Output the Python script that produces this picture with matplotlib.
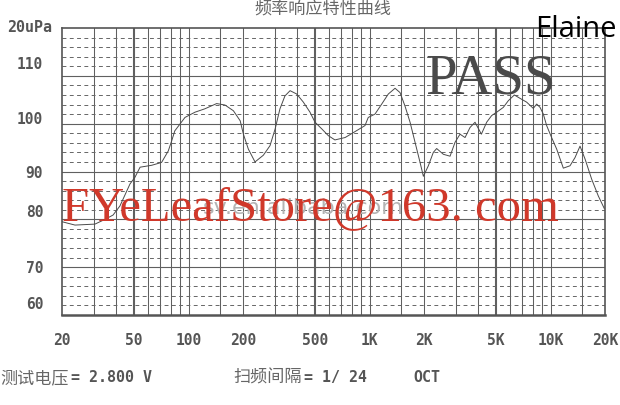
import matplotlib
matplotlib.use('Agg')
from matplotlib import pyplot as plt
from matplotlib.ticker import NullLocator

# Frequency response curve (Hz, dB)
freq = [20, 23.6, 30.4, 34.6, 38.3, 41.8, 47.5, 50.6, 54, 62.6, 71, 77.3, 80.7, 84,
        95.6, 108.6, 123, 143, 159, 177, 193, 201, 214, 233, 259, 282, 301, 320,
        341, 364, 396, 431, 469, 500, 545, 592, 644, 733, 764, 944, 984, 1072,
        1168, 1270, 1384, 1474, 1570, 1675, 1785, 1902, 1984, 2114, 2252, 2350,
        2558, 2786, 2968, 3162, 3372, 3592, 3828, 4150, 4438, 4732, 5044, 5484,
        5846, 6312, 6780, 7380, 8032, 8390, 8754, 9126, 9520, 10140, 10812,
        11770, 12818, 13652, 14556, 15520, 16880, 18360, 19800]
spl = [79.5, 78.8, 79.0, 80.0, 80.9, 82.8, 87.4, 88.8, 90.9, 91.3, 91.9, 94.3, 96.4, 98.5,
       101.3, 102.4, 103.1, 104.2, 103.9, 102.7, 100.6, 97.8, 94.7, 92.0, 93.4, 95.4, 98.9, 103.1,
       105.8, 106.9, 106.2, 104.5, 102.4, 100.3, 98.9, 97.5, 96.6, 97.1, 97.5, 99.6, 101.3, 102.0,
       104.1, 106.2, 107.4, 106.5, 103.7, 100.3, 96.1, 91.9, 89.0, 91.2, 94.0, 94.8,
       93.6, 93.2, 96.1, 97.8, 97.1, 99.2, 100.3, 97.8, 100.3, 101.7, 102.4, 103.4,
       104.8, 106.0, 105.3, 104.5, 103.2, 104.1, 103.4, 102.0, 99.6, 97.1, 94.7,
       90.7, 91.2, 92.9, 95.3, 92.6, 88.4, 84.9, 82.3]

xtick_vals = [20, 50, 100, 200, 500, 1000, 2000, 5000, 10000, 20000]
xtick_labels = ['20', '50', '100', '200', '500', '1K', '2K', '5K', '10K', '20K']
# the y labels sit a little off the grid lines in the original
ytick_vals = [112.9, 101.4, 90, 81.85, 70.3, 62.7]
ytick_labels = ['110', '100', '90', '80', '70', '60']

W, H = 620, 406
fig = plt.figure(figsize=(W / 100, H / 100), dpi=100)
ax = fig.add_axes([62 / W, 1 - 316 / H, 543 / W, 287 / H])
ax.set_xscale('log')
ax.set_xlim(20, 20000)
ax.set_ylim(60, 120)

grid_c = '#606060'
# vertical grid: 1, 1.5, 2, 3 ... 9 in each decade, 5 drawn heavier
for dec in [10, 100, 1000, 10000]:
    for m in [1, 1.5, 2, 3, 4, 5, 6, 7, 8, 9]:
        f = m * dec
        if 20 < f < 20000:
            ax.axvline(f, color=grid_c, lw=1.5 if m == 5 else 0.75, zorder=1)
# horizontal grid: solid every 10 dB, dashed every 2 dB
for v in range(62, 120, 2):
    if v % 10 == 0:
        ax.axhline(v, color=grid_c, lw=0.8, zorder=1)
    else:
        ax.axhline(v, color='#666666', lw=0.7, ls=(0, (4, 3.5)), zorder=1)

ax.plot(freq, spl, color='#4a4a4a', lw=0.7, zorder=3)

for s in ax.spines.values():
    s.set_color('#555555')
    s.set_linewidth(1.2)
ax.spines['bottom'].set_linewidth(1.8)

ax.xaxis.set_minor_locator(NullLocator())
ax.set_xticks(xtick_vals, xtick_labels)
ax.set_yticks(ytick_vals, ytick_labels)
ax.tick_params(length=0, labelcolor='#555555', labelsize=10.5)
ax.tick_params(axis='x', pad=12)
ax.tick_params(axis='y', pad=13.5)
for lab in ax.get_xticklabels() + ax.get_yticklabels():
    lab.set_family('DejaVu Sans Mono')
    lab.set_fontweight('bold')


def px(x, y):
    return x / W, 1 - y / H


cjk = 'Noto Sans CJK SC'
mono = dict(family='DejaVu Sans Mono', fontweight='bold', color='#555555', fontsize=10.8)

fig.text(*px(323, 10), '频率响应特性曲线', family=cjk, fontsize=12.3, color='#666666',
         ha='center', va='center')
fig.text(*px(52, 28), '20uPa', ha='right', va='center', **mono)

fig.text(*px(0, 378), '测试电压', family=cjk, fontsize=12.3, color='#666666', ha='left', va='center')
fig.text(*px(71, 378), '= 2.800 V', ha='left', va='center', **mono)
fig.text(*px(233, 378), '扫频间隔', family=cjk, fontsize=12.3, color='#666666', ha='left', va='center')
fig.text(*px(304, 378), '= 1/ 24', ha='left', va='center', **mono)
fig.text(*px(413, 378), 'OCT', ha='left', va='center', **mono)

# watermarks
fig.text(*px(535, 37), 'Elaine', family='Open Sans', fontsize=21, color='black',
         ha='left', va='baseline')
fig.text(*px(425, 93), 'PASS', family='Liberation Serif', fontsize=41, color='#4a4a4a',
         ha='left', va='baseline')
fig.text(*px(203, 208), 'sv.en.alibaba.com', family='DejaVu Sans', fontsize=16,
         color='#b4b4b4', ha='left', va='center', zorder=4)
fig.text(*px(62, 220), 'FYeLeafStore@163. com', family='Liberation Serif', fontsize=35,
         color='#d0382a', ha='left', va='baseline', zorder=5)

fig.savefig('out.png', dpi=100)
